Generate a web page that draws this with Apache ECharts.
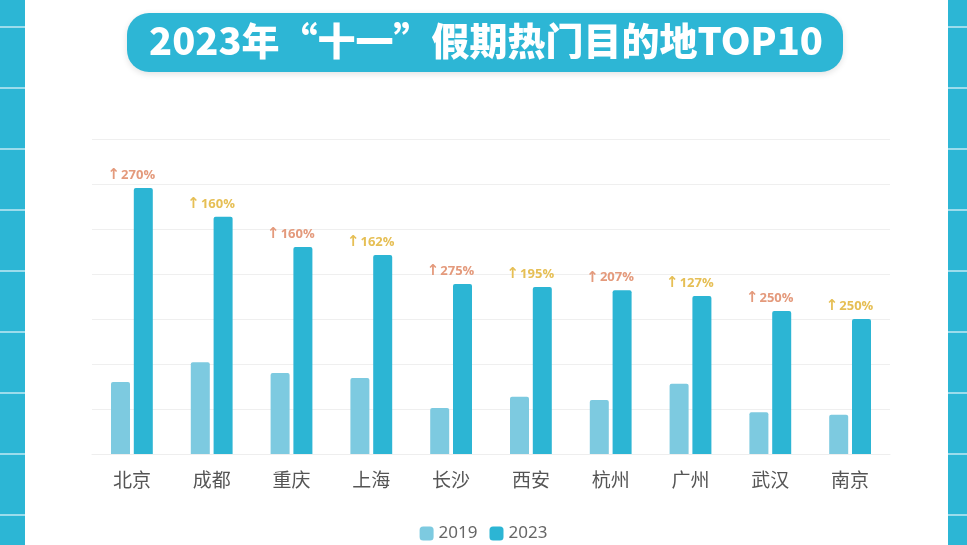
<!DOCTYPE html>
<html><head><meta charset="utf-8">
<script src="https://cdn.jsdelivr.net/npm/echarts@6/dist/echarts.min.js"></script>
<style>html,body{margin:0;padding:0;background:#fff}#c{width:967px;height:545px}</style>
</head><body><div id="c"></div>
<script>
const titleText = '2023年“十一”假期热门目的地TOP10';
const cities = ['北京','成都','重庆','上海','长沙','西安','杭州','广州','武汉','南京'];
const v2019 = [1.60, 2.04, 1.80, 1.69, 1.02, 1.27, 1.20, 1.56, 0.93, 0.87];
const v2023 = [5.91, 5.27, 4.60, 4.42, 3.78, 3.71, 3.64, 3.51, 3.18, 3.00];
const growth = [270, 160, 160, 162, 275, 195, 207, 127, 250, 250];
const labelColors = ['#e49a7c','#e6bf55','#e49a7c','#e6bf55','#e49a7c','#e6bf55','#e49a7c','#e6bf55','#e49a7c','#e6bf55'];

const chart = echarts.init(document.getElementById('c'));
const stripe = '#2cb6d5';
const deco = [
  {type:'rect', shape:{x:0,y:0,width:25,height:545}, style:{fill:stripe}, z:0},
  {type:'rect', shape:{x:948,y:0,width:19,height:545}, style:{fill:stripe}, z:0}
];
for (let y = 26; y < 545; y += 61) {
  deco.push({type:'rect', shape:{x:0,y:y,width:25,height:2}, style:{fill:'#9cdcec'}, z:1});
  deco.push({type:'rect', shape:{x:948,y:y,width:19,height:2}, style:{fill:'#9cdcec'}, z:1});
}
deco.push({type:'rect', shape:{x:127,y:13,width:716,height:59,r:22}, style:{fill:'#2db6d5', shadowColor:'rgba(0,0,0,0.12)', shadowBlur:6, shadowOffsetY:2}, z:2});
deco.push({type:'text', x:486, y:41, style:{text:titleText, fill:'#fff', font:'900 38px "Noto Sans CJK SC"', align:'center', verticalAlign:'middle', textShadowColor:'#1b6296', textShadowOffsetX:2, textShadowOffsetY:3, textShadowBlur:0}, z:3});

chart.setOption({
  animation:false,
  graphic: deco,
  legend:{
    top:520, left:'center', itemWidth:14, itemHeight:14, itemGap:12,
    textStyle:{fontSize:17, color:'#666', fontFamily:'Noto Sans'},
    data:['2019','2023']
  },
  grid:{left:92, right:77, top:139, bottom:91},
  xAxis:{
    type:'category', data:cities,
    axisLine:{show:true, lineStyle:{color:'#eee'}}, axisTick:{show:false},
    axisLabel:{fontSize:19, color:'#555', margin:16, fontFamily:'Noto Sans CJK SC'}
  },
  yAxis:{
    type:'value', min:0, max:7, interval:1,
    axisLabel:{show:false}, axisLine:{show:false}, axisTick:{show:false},
    splitLine:{lineStyle:{color:'#efefef'}}
  },
  series:[
    {name:'2019', type:'bar', data:v2019, barWidth:19, barGap:'20%',
      itemStyle:{color:'#7dcae0', borderRadius:[2,2,0,0]}},
    {name:'2023', type:'bar', data:v2023.map((v,i)=>({value:v, label:{color:labelColors[i]}})), barWidth:19,
      itemStyle:{color:'#2cb5d4', borderRadius:[2,2,0,0]},
      label:{show:true, position:'top', distance:5, offset:[-12,0], fontSize:13, fontWeight:'bold', fontFamily:'Open Sans',
        formatter:(p)=>'{a|↑}' + growth[p.dataIndex] + '%',
        rich:{a:{fontSize:15, fontWeight:'bold', fontFamily:'DejaVu Sans', padding:[0,1,0,0]}}}}
  ]
});
</script></body></html>
